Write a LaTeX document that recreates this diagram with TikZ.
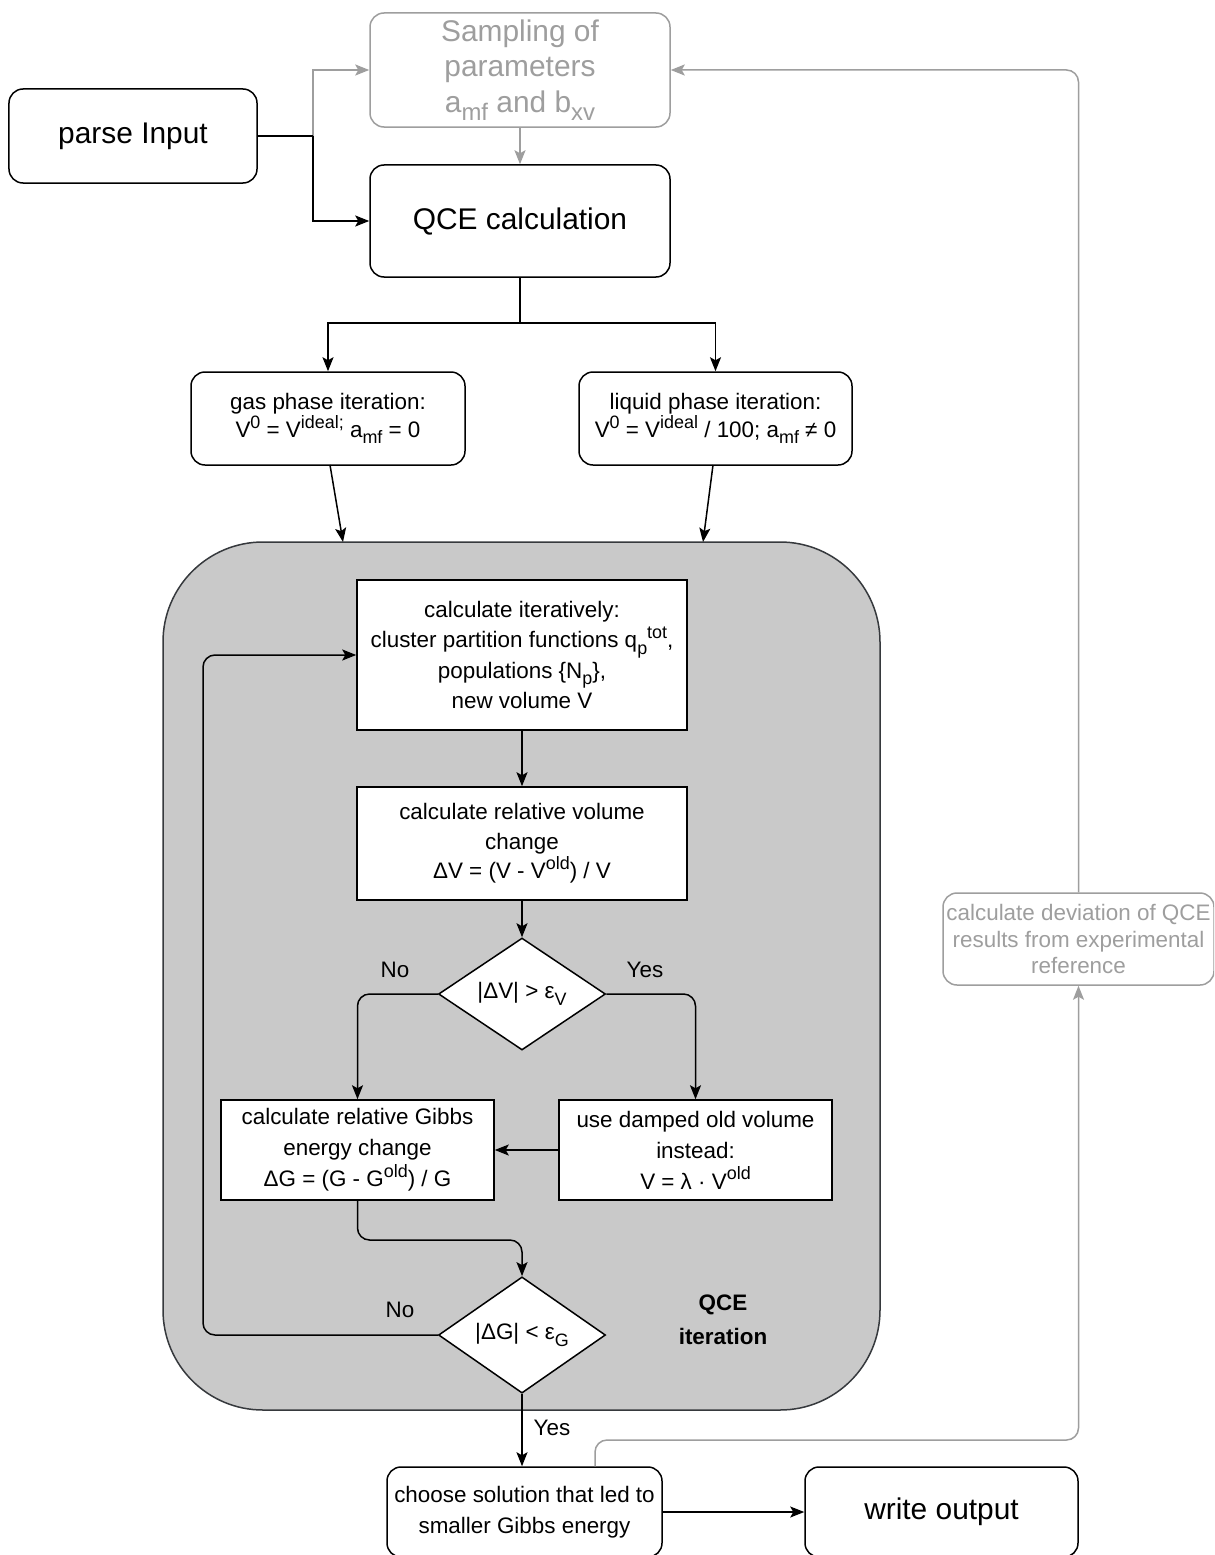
\documentclass[tikz,border=0pt]{standalone}
\usepackage{fontspec}
\setmainfont{Liberation Sans}
\usetikzlibrary{arrows.meta,shapes.geometric,calc}
\definecolor{ltgray}{HTML}{9E9E9E}
\definecolor{contfill}{HTML}{C9C9C9}
\definecolor{contline}{HTML}{36393D}
\makeatletter
\newcommand\dnsub[1]{\raisebox{-0.28em}{\fontsize{\dimexpr0.8\dimexpr\f@size pt\relax\relax}{0pt}\selectfont #1}}
\newcommand\upsup[1]{\raisebox{0.42em}{\fontsize{\dimexpr0.8\dimexpr\f@size pt\relax\relax}{0pt}\selectfont #1}}
\makeatother
\tikzset{
  every node/.style={inner sep=0pt, align=center, font=\fontsize{22.5}{28}\selectfont},
  big/.style={font=\fontsize{30}{36}\selectfont},
  rbox/.style={draw, line width=1.5bp, rounded corners=14bp, fill=white},
  sbox/.style={draw, line width=1.5bp, fill=white},
  gbox/.style={draw=ltgray, text=ltgray, line width=1.5bp, rounded corners=14bp, fill=white},
  dia/.style={draw, shape=diamond, line width=1.5bp, fill=white, minimum width=167bp, minimum height=112bp},
  tip/.style={-{Stealth[length=14bp,width=11bp,inset=3bp]}},
  conn/.style={line width=1.5bp, tip, rounded corners=12bp},
  gline/.style={line width=1.5bp, draw=ltgray, rounded corners=12bp},
  lbl/.style={font=\fontsize{22.5}{27}\selectfont},
}
\begin{document}
\begin{tikzpicture}[x=1bp,y=-1bp]
\path[use as bounding box, clip] (0,0) rectangle (1214,1555);
\fill[white] (0,0) rectangle (1214,1555);

% container
\draw[fill=contfill, draw=contline, line width=1.5bp, rounded corners=100bp] (163,542) rectangle (880,1410);
\node[font=\fontsize{22.5}{34}\selectfont\bfseries] (lab) at (723,1320) {QCE\\iteration};

% nodes
\node[rbox, big, minimum width=248bp, minimum height=94bp] (parse) at (133,136) {parse Input};
\node[gbox, minimum width=300bp, minimum height=114bp, font=\fontsize{30}{35.5}\selectfont] (samp) at (520,70) {Sampling of\\parameters\\a\dnsub{mf} and b\dnsub{xv}};
\node[rbox, big, minimum width=300bp, minimum height=112bp] (qce) at (520,221) {QCE calculation};
\node[rbox, minimum width=274bp, minimum height=93bp] (gas) at (328,418.5) {gas phase iteration:\\V\upsup{0} = V\upsup{ideal;} a\dnsub{mf} = 0};
\node[rbox, minimum width=273bp, minimum height=93bp] (liq) at (715.5,418.5) {liquid phase iteration:\\V\upsup{0} = V\upsup{ideal} / 100; a\dnsub{mf} ≠ 0};
\node[sbox, minimum width=330bp, minimum height=150bp, font=\fontsize{22.5}{30.5}\selectfont] (b1) at (522,655) {calculate iteratively:\\cluster partition functions q\dnsub{p}\upsup{tot},\\populations \{N\dnsub{p}\},\\new volume V};
\node[sbox, minimum width=330bp, minimum height=113bp, font=\fontsize{22.5}{29.5}\selectfont] (b2) at (522,843.5) {calculate relative volume\\change\\ΔV = (V - V\upsup{old}) / V};
\node[dia] (d1) at (522,994) {|ΔV| > ε\dnsub{V}};
\node[sbox, minimum width=273bp, minimum height=100bp, font=\fontsize{22.5}{31}\selectfont] (b3) at (357.5,1150) {calculate relative Gibbs\\energy change\\ΔG = (G - G\upsup{old}) / G};
\node[sbox, minimum width=273bp, minimum height=100bp, font=\fontsize{22.5}{31}\selectfont] (b4) at (695.5,1150) {use damped old volume\\instead:\\V = λ · V\upsup{old}};
\node[dia] (d2) at (522,1335) {|ΔG| < ε\dnsub{G}};
\node[rbox, minimum width=275bp, minimum height=90bp, font=\fontsize{22.5}{31}\selectfont] (choose) at (524.5,1512) {choose solution that led to\\smaller Gibbs energy};
\node[rbox, big, minimum width=273bp, minimum height=90bp] (write) at (941.5,1512) {write output};
\node[gbox, minimum width=271bp, minimum height=92bp, font=\fontsize{22.5}{27}\selectfont] (dev) at (1078.5,939) {calculate deviation of QCE\\results from experimental\\reference};

% labels
\node[lbl] (no1) at (395,970) {No};
\node[lbl] (yes1) at (645,970) {Yes};
\node[lbl] (no2) at (400,1310) {No};
\node[lbl] (yes2) at (552,1428) {Yes};

% coordinates
\coordinate (split) at (313,136);
\coordinate (qsplit) at (520,323);
\coordinate (cgas) at (343,542);
\coordinate (cliq) at (703,542);
\coordinate (gasout) at (330,465);
\coordinate (liqout) at (713,465);
\coordinate (chtop) at ($(choose.north)+(70.5,0)$);

% connectors
\draw[line width=1.5bp, draw=ltgray, tip] (split) |- (samp.west);
\draw[line width=1.5bp, draw=ltgray, tip] (samp.south) -- (qce.north);
\draw[line width=1.5bp] (parse.east) -- (split);
\draw[line width=1.5bp, tip] (split) |- (qce.west);
\draw[line width=1.5bp] (qce.south) -- (qsplit);
\draw[line width=1.5bp, tip] (qsplit) -| (gas.north);
\draw[line width=1.5bp, tip] (qsplit) -| (liq.north);
\draw[line width=1.5bp, tip] (gasout) -- (cgas);
\draw[line width=1.5bp, tip] (liqout) -- (cliq);
\draw[conn] (b1.south) -- (b2.north);
\draw[conn] (b2.south) -- (d1.north);
\draw[conn] (d1.west) -| (b3.north);
\draw[conn] (d1.east) -| (b4.north);
\draw[conn] (b4.west) -- (b3.east);
\draw[conn] (b3.south) -- (357.5,1240) -- (522,1240) -- (d2.north);
\draw[conn] (d2.west) -- (203,1335) -- (203,655) -- (b1.west);
\draw[conn] (d2.south) -- (d2.south |- choose.north);
\draw[conn] (choose.east) -- (write.west);
\draw[gline, tip] (chtop) -- (595,1440) -- (1078.5,1440) -- (dev.south);
\draw[gline, tip] (dev.north) -- (1078.5,70) -- (samp.east);
\end{tikzpicture}
\end{document}
